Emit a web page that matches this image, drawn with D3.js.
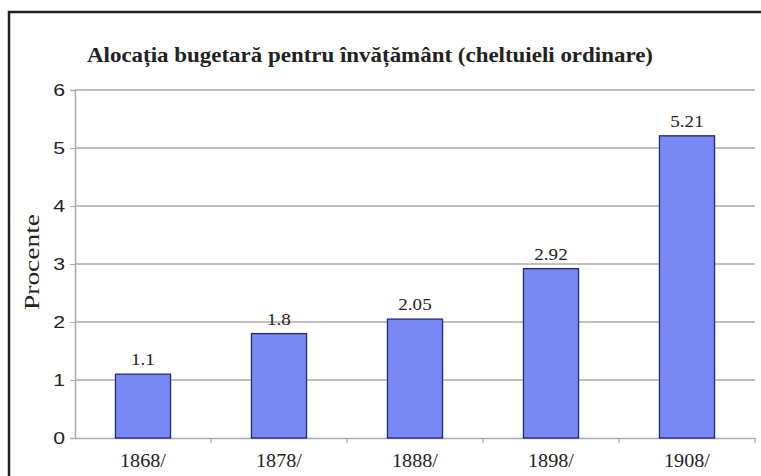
<!DOCTYPE html>
<html><head><meta charset="utf-8">
<script src="https://cdn.jsdelivr.net/npm/d3@7"></script>
<style>body{margin:0;background:#fff}svg{display:block}</style>
</head><body>
<script>
const title = "Alocația bugetară pentru învățământ (cheltuieli ordinare)";
const categories = ["1868/", "1878/", "1888/", "1898/", "1908/"];
const values = [1.1, 1.8, 2.05, 2.92, 5.21];
const valueLabels = ["1.1", "1.8", "2.05", "2.92", "5.21"];
const yTicks = [0, 1, 2, 3, 4, 5, 6];
const yTitle = "Procente";

const W = 761, H = 476;
const SERIF = "Liberation Serif, Times New Roman, serif";
const SANS = "Liberation Sans, Arial, sans-serif";
const svg = d3.select("body").append("svg").attr("width", W).attr("height", H);
svg.append("rect").attr("width", W).attr("height", H).attr("fill", "#fff");

// stretch text horizontally (the reference picture is widened)
function stretch(sel, k) {
  sel.each(function () {
    const w = this.getComputedTextLength();
    d3.select(this).attr("textLength", w * k).attr("lengthAdjust", "spacingAndGlyphs");
  });
}

// frame
svg.append("path").attr("d", `M9,${H} L9,12 L${W},12`).attr("fill", "none")
  .attr("stroke", "#222").attr("stroke-width", 2.5);

const x = d3.scaleBand().domain(categories).range([75, 755]).paddingInner(0.595).paddingOuter(0.2975);
const y = d3.scaleLinear().domain([0, 6]).range([438, 90]);

// grid
svg.append("g").selectAll("line").data(yTicks.filter(d => d > 0)).join("line")
  .attr("x1", 75).attr("x2", 755).attr("y1", d => y(d)).attr("y2", d => y(d))
  .attr("stroke", "#ababab").attr("stroke-width", 1.5);

// y axis
const ya = svg.append("g").attr("transform", "translate(75,0)")
  .call(d3.axisLeft(y).tickValues(yTicks).tickSize(5).tickPadding(5).tickFormat(d3.format("d")));
ya.select(".domain").attr("stroke", "#ababab").attr("stroke-width", 1.5);
ya.selectAll(".tick line").attr("stroke", "#ababab");
ya.selectAll("text").attr("font-family", SANS).attr("font-size", 17).attr("fill", "#222")
  .call(stretch, 1.25);

// x axis
const xa = svg.append("g").attr("transform", `translate(0,${y(0)})`)
  .call(d3.axisBottom(x).tickSize(0).tickPadding(16));
xa.select(".domain").attr("stroke", "#ababab").attr("stroke-width", 1.5);
xa.selectAll("text").attr("font-family", SERIF).attr("font-size", 18).attr("fill", "#222")
  .call(stretch, 1.12);
// boundary tick marks
const step = x.step();
svg.append("g").selectAll("line").data(categories).join("line")
  .attr("x1", d => x(d) - x.paddingOuter() * step + step).attr("x2", d => x(d) - x.paddingOuter() * step + step)
  .attr("y1", y(0)).attr("y2", y(0) + 5).attr("stroke", "#ababab").attr("stroke-width", 1.2);

// bars
svg.append("g").selectAll("rect").data(values).join("rect")
  .attr("x", (d, i) => x(categories[i])).attr("width", x.bandwidth())
  .attr("y", d => y(d)).attr("height", d => y(0) - y(d))
  .attr("fill", "#7888f4").attr("stroke", "#1f2a80").attr("stroke-width", 1.3);

// value labels
svg.append("g").selectAll("text").data(values).join("text")
  .attr("x", (d, i) => x(categories[i]) + x.bandwidth() / 2).attr("y", d => y(d) - 9)
  .attr("text-anchor", "middle").attr("font-family", SERIF)
  .attr("font-size", 17).attr("fill", "#222").text((d, i) => valueLabels[i])
  .call(stretch, 1.12);

// title
svg.append("text").attr("x", 370).attr("y", 62).attr("text-anchor", "middle")
  .attr("font-family", SERIF).attr("font-weight", "bold")
  .attr("font-size", 21).attr("fill", "#222").text(title)
  .attr("textLength", 566).attr("lengthAdjust", "spacingAndGlyphs");

// y title
svg.append("text").attr("transform", "translate(39,262) rotate(-90)").attr("text-anchor", "middle")
  .attr("font-family", SERIF).attr("font-size", 22).attr("fill", "#222").text(yTitle)
  .attr("textLength", 96).attr("lengthAdjust", "spacingAndGlyphs");
</script>
</body></html>
